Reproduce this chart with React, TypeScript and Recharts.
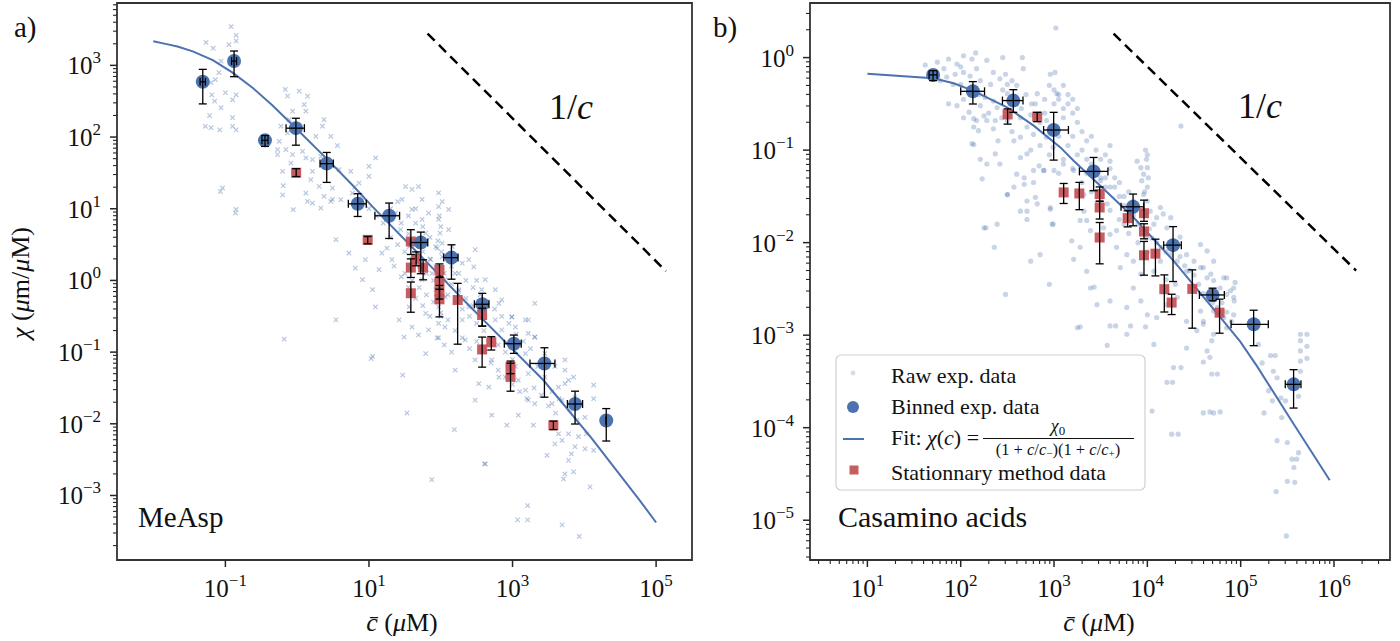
import React from "react";
import { ScatterChart, Scatter, XAxis, YAxis, ErrorBar, ReferenceArea } from "recharts";

const SERIF = '"Liberation Serif", "DejaVu Serif", serif';
const BLUE = "#4c72b0";
const RED = "#c44e52";
const INK = "#262626";

// axis ranges
const A_X_DOMAIN = [10 ** -2.51, 10 ** 5.5];
const A_Y_DOMAIN = [10 ** -3.9, 10 ** 3.87];
const B_X_DOMAIN = [10 ** 0.385, 10 ** 6.6];
const B_Y_DOMAIN = [10 ** -5.43, 10 ** 0.59];

const A_X_MAJOR = [1e-1, 1e1, 1e3, 1e5];

// ---- panel a: MeAsp ----
const A_BIN_X = [0.0484, 0.132, 0.356, 0.96, 2.58, 6.97, 19.1, 52.7, 141, 379, 1043, 2782, 7430, 20200];
const A_BIN_Y = [590, 1148, 90, 133, 42.6, 11.7, 7.98, 3.38, 2.08, 0.465, 0.131, 0.0695, 0.0189, 0.0111];
const A_BIN_XLO = [0.0444, 0.122, 0.323, 0.7, 2.08, 5.16, 12.1, 37.9, 110, 294, 768, 1750, 5810, 20200];
const A_BIN_XHI = [0.0527, 0.143, 0.392, 1.26, 3.19, 9.17, 26.7, 65.9, 174, 469, 1321, 3893, 9460, 20200];
const A_BIN_YLO = [290, 695, 74, 77, 23.3, 7.8, 3.85, 1.24, 1.04, 0.231, 0.096, 0.0235, 0.00993, 0.00575];
const A_BIN_YHI = [880, 1585, 105, 183, 61, 16.2, 12.0, 4.72, 3.14, 0.66, 0.173, 0.115, 0.0285, 0.0163];

const A_ST_X = [0.968, 9.6, 38.3, 45.4, 38.3, 56.8, 38.3, 96, 96, 96, 96, 172, 377, 377, 506, 937, 937, 3707];
const A_ST_Y = [31.8, 3.68, 3.49, 2.0, 1.51, 1.51, 0.662, 1.4, 0.96, 0.7, 0.545, 0.533, 0.329, 0.109, 0.137, 0.0622, 0.0451, 0.00953];
const A_ST_YLO = [28.1, 3.24, 2.3, 1.6, 1.1, 1.02, 0.36, 1.1, 0.75, 0.55, 0.31, 0.129, 0.23, 0.0617, 0.107, 0.05, 0.0285, 0.0083];
const A_ST_YHI = [36.2, 4.1, 5.1, 2.5, 2.0, 1.94, 0.95, 1.7, 1.15, 0.85, 0.75, 0.91, 0.41, 0.162, 0.164, 0.075, 0.07, 0.0109];

const A_FIT_X = [0.0099, 0.0141, 0.0215, 0.0351, 0.0667, 0.126, 0.239, 0.454, 0.96, 2.51, 5.87, 11.1, 113, 208, 2698, 12600, 59400, 100000];
const A_FIT_Y = [2170, 2010, 1830, 1570, 1186, 791, 488, 276, 133, 51.2, 21.4, 10.8, 1.0, 0.533, 0.0405, 0.0063, 0.00085, 0.00042];

const A_SLOPE_X = [65.5, 137000];
const A_SLOPE_Y = [2767, 1.35];

// raw measurements, as [log10 c, log10 chi]
const A_RAW = [
  [-0.92, 3.54], [-0.85, 3.42], [-0.85, 3.34], [-0.95, 3.29], [-1.27, 3.32], [-1.17, 3.24], [-1.06, 3.06], [-1.09, 2.9],
  [-1.14, 2.8], [-1.2, 2.76], [-1.19, 2.59], [-1.15, 2.5], [-1.22, 2.3], [-1.06, 2.41], [-1.28, 2.15], [-1.2, 2.13],
  [-1.08, 2.1], [-0.9, 2.15], [-0.85, 2.1], [-0.9, 2.27], [-0.9, 2.52], [-0.85, 2.59], [-1.0, 2.62], [-1.04, 1.29],
  [-0.85, 0.99], [-0.86, 0.94], [-1.07, 1.24],
  [-0.166, 2.664], [-0.134, 2.571], [0.028, 2.641], [0.144, 2.571], [0.098, 2.454], [0.121, 2.361], [-0.064, 2.361],
  [-0.111, 2.244], [-0.226, 2.151], [-0.134, 2.058], [-0.25, 1.941], [-0.273, 1.825], [-0.157, 1.825], [-0.273, 1.755],
  [-0.064, 1.755], [0.075, 1.801], [0.121, 1.708], [-0.203, 1.522], [-0.088, 1.638], [-0.194, 1.321], [-0.203, 1.195],
  [-0.055, 0.986], [0.121, 1.219], [0.19, 1.405], [0.213, 1.522], [0.375, 2.244], [0.352, 2.151], [0.26, 2.011],
  [0.468, 2.011], [0.561, 1.881], [0.213, 1.685], [0.329, 1.732], [0.584, 1.545], [0.746, 1.522], [1.0, 1.452],
  [1.093, 1.708], [1.0, 1.592], [0.306, 1.312], [0.375, 1.172], [0.468, 1.102], [0.213, 1.079], [0.329, 1.009],
  [0.144, 1.102], [0.491, 1.289], [0.607, 1.126], [0.769, 1.219], [0.862, 1.359],
  [0.49, 1.13], [0.54, 0.57], [0.72, 0.38], [0.81, 0.17], [0.91, 0.01], [0.95, 0.29], [1.05, -0.13], [1.14, 0.15],
  [1.18, 0.38], [1.32, 0.29], [1.09, -0.37], [1.05, -1.06], [0.54, -0.55], [1.42, -0.55], [1.49, -0.79], [1.69, -0.76],
  [1.56, -0.37], [1.6, -0.65], [1.79, -0.46], [1.79, -1.02], [1.83, -0.69], [1.46, 1.13], [1.51, 1.31], [1.6, 1.27],
  [1.37, 0.94], [1.44, 0.71], [1.83, 0.94], [1.97, 1.22], [1.97, 1.03], [1.97, 0.85], [1.99, 0.66], [1.93, 0.47],
  [2.02, 0.33], [1.88, 0.1], [1.93, -0.13], [1.97, -0.37], [1.97, -0.6], [2.06, -0.65], [1.86, 0.29], [1.79, 0.66],
  [1.74, 0.85], [1.65, 0.8], [2.11, 0.71], [2.2, 0.1], [2.3, 0.24], [2.39, 0.29], [2.48, 0.43], [2.46, 0.19],
  [2.62, 0.01], [2.57, -0.13], [2.76, -0.13], [2.85, -0.27], [2.76, -0.55], [2.39, -0.37], [2.3, -0.55], [2.34, -0.83],
  [2.48, -1.11], [2.2, -1.25], [2.85, -0.69], [2.99, -0.51], [3.04, -0.65], [3.22, -0.55], [3.31, -0.79], [3.18, -1.02],
  [3.04, -1.2], [3.22, -1.3], [3.45, -1.02], [3.59, -1.2], [1.69, 1.31], [1.74, 1.13], [2.11, 0.99], [1.6, 0.99],
  [1.56, 0.47], [1.65, 0.24], [1.74, 0.01], [2.06, 0.01], [2.06, -0.23], [2.16, 0.47], [2.25, -0.13], [1.93, 0.19],
  [2.02, 0.52],
  [2.81, -0.32], [2.99, -0.51], [3.18, -0.55], [3.31, -0.32], [3.31, -0.79], [3.22, -0.74], [2.71, -1.11], [2.81, -1.35],
  [2.53, -1.44], [2.48, -1.67], [2.67, -1.49], [3.08, -1.39], [3.18, -1.53], [3.22, -1.67], [3.31, -1.72], [3.08, -1.88],
  [2.92, -2.02], [3.29, -2.02], [2.71, -1.88], [2.62, -2.56], [3.48, -2.44], [3.59, -2.28], [3.64, -2.14], [3.73, -1.44],
  [3.73, -1.25], [3.73, -1.11], [3.78, -1.39], [3.85, -1.35], [3.64, -1.49], [3.69, -1.67], [3.55, -1.72], [3.87, -1.63],
  [4.01, -1.91], [4.13, -1.46], [4.13, -1.65], [4.13, -2.37], [4.03, -2.14], [3.82, -2.42], [3.78, -2.51], [3.85, -2.67],
  [3.73, -2.7], [3.71, -2.77], [4.08, -2.88], [3.92, -2.18], [3.87, -2.32], [3.78, -2.14], [3.69, -2.23], [4.01, -2.35],
  [3.07, -3.34], [3.21, -3.14], [3.21, -3.34], [3.69, -3.41], [3.93, -3.57], [1.875, -2.78], [2.61, -2.56], [1.53, -1.85],
  [2.19, -2.08], [-0.18, -0.82], [1.03, -1.09], [1.47, -1.32],
  [1.3, 0.6], [1.4, 0.5], [1.5, 0.4], [1.6, 0.3], [1.7, 0.2], [1.8, 0.1], [1.9, 0.0], [2.0, -0.1], [2.1, -0.2],
  [2.2, -0.3], [2.3, -0.4], [2.4, -0.5], [2.5, -0.6], [2.6, -0.7], [2.7, -0.8], [2.8, -0.9], [2.9, -1.0], [3.0, -1.1],
  [1.45, 0.8], [1.55, 0.65], [1.65, 0.55], [1.75, 0.4], [1.85, 0.3], [1.95, 0.2], [2.05, 0.1], [2.15, -0.05],
  [2.25, -0.15], [2.35, -0.25], [2.45, -0.35], [1.5, 0.1], [1.6, 0.0], [1.7, -0.1], [1.8, -0.2], [1.9, -0.3],
  [2.0, -0.45], [2.1, -0.55], [2.2, -0.7], [1.2, 0.8], [1.1, 0.9], [1.0, 1.0], [0.9, 1.15], [0.8, 1.3],
  [1.25, 0.45], [1.35, 0.2], [1.45, 0.05], [1.55, -0.1], [1.65, -0.25], [1.75, -0.35], [1.85, -0.5], [1.95, -0.8],
  [2.05, -0.9], [2.15, -1.0], [1.3, 1.0], [1.4, 1.1], [1.55, 0.9], [1.65, 1.0], [1.75, 0.75], [1.85, 0.6],
  [1.95, 0.45], [2.05, 0.35], [2.15, 0.2], [2.25, 0.1], [2.35, 0.0], [2.45, -0.1], [2.55, -0.2], [2.65, -0.3],
  [2.75, -0.4], [2.85, -0.5], [2.95, -0.6], [3.05, -0.75], [3.15, -0.85], [3.25, -0.95], [2.3, -0.8], [2.4, -0.95],
  [2.5, -0.85], [2.6, -1.0], [2.7, -1.15], [2.8, -1.25], [2.9, -1.35], [3.0, -1.45], [3.1, -1.55], [3.2, -1.65],
  [3.3, -1.5], [3.4, -1.6], [3.5, -1.75], [3.6, -1.85], [3.35, -1.2], [3.45, -1.35], [3.55, -1.55], [3.65, -1.65],
  [3.8, -1.8], [3.9, -1.95], [1.98, 0.9], [2.0, 0.75], [1.96, 0.55], [2.01, 0.4], [1.98, -0.2], [2.0, -0.5],
  [1.97, -0.8], [2.02, 1.1], [2.5, 0.0], [2.55, -0.45],
];

// ---- panel b: Casamino acids ----
const B_BIN_X = [50.6, 135, 366, 991, 2654, 7030, 18840, 50000, 137700, 369000];
const B_BIN_Y = [0.65, 0.432, 0.343, 0.165, 0.0589, 0.0244, 0.0094, 0.00272, 0.00131, 0.000294];
const B_BIN_XLO = [45.8, 100, 280, 773, 1870, 5220, 14960, 36100, 78900, 300600];
const B_BIN_XHI = [55.8, 180, 465, 1426, 3780, 9120, 23100, 66800, 197700, 442600];
const B_BIN_YLO = [0.564, 0.315, 0.256, 0.078, 0.0364, 0.0152, 0.0038, 0.00235, 0.00077, 0.000163];
const B_BIN_YHI = [0.723, 0.55, 0.45, 0.256, 0.0833, 0.0335, 0.0149, 0.00322, 0.00186, 0.000424];

const B_ST_X = [318, 660, 1268, 1866, 3083, 3083, 3083, 6150, 9200, 9200, 9200, 12200, 15200, 18200, 30300, 59400];
const B_ST_Y = [0.243, 0.23, 0.0349, 0.034, 0.0335, 0.024, 0.01136, 0.0184, 0.0208, 0.0132, 0.0073, 0.0076, 0.00314, 0.00225, 0.00316, 0.00175];
const B_ST_YLO = [0.191, 0.203, 0.0265, 0.0227, 0.028, 0.018, 0.0059, 0.0148, 0.017, 0.011, 0.00445, 0.00437, 0.00178, 0.00167, 0.00119, 0.00105];
const B_ST_YHI = [0.279, 0.256, 0.0436, 0.0448, 0.04, 0.028, 0.0165, 0.0221, 0.0288, 0.016, 0.0103, 0.0109, 0.00448, 0.00277, 0.00508, 0.00245];

const B_FIT_X = [10, 50.6, 84, 135, 314, 605, 1170, 1622, 3133, 7130, 19100, 51000, 99000, 150000, 340000, 900000];
const B_FIT_Y = [0.667, 0.597, 0.527, 0.44, 0.29, 0.184, 0.107, 0.0768, 0.0412, 0.0187, 0.00635, 0.00192, 0.00085, 0.00046, 0.000125, 0.000027];

const B_SLOPE_X = [4345, 1726000];
const B_SLOPE_Y = [1.815, 0.00499];

const B_RAW = [
  [1.87, -0.015], [1.96, -0.07], [2.03, -0.16], [2.12, -0.015], [2.16, 0.05], [2.28, -0.03], [2.45, 0.0], [2.66, 0.0],
  [2.67, -0.12], [2.35, -0.16], [2.42, -0.23], [2.5, -0.29], [1.92, -0.29], [1.87, -0.5], [1.96, -0.52], [2.03, -0.65],
  [2.09, -0.59], [2.14, -0.75], [2.19, -0.79], [2.28, -0.68], [2.35, -0.77], [2.25, -0.63], [2.21, -0.52], [2.12, -0.93],
  [2.21, -1.1], [2.28, -1.15], [2.37, -1.04], [2.42, -1.15], [2.23, -1.31], [2.5, -1.48], [2.57, -1.4], [2.68, -1.3],
  [2.64, -1.08], [2.71, -1.04], [2.78, -1.22], [2.84, -1.17], [2.89, -1.22], [2.71, -1.55], [2.8, -1.51], [2.96, -1.64],
  [2.64, -1.66], [2.71, -1.75], [2.39, -1.8], [2.25, -1.84], [2.99, -1.8], [2.64, -0.86], [2.78, -0.83], [2.92, -0.86],
  [2.99, -0.97], [2.57, -0.9], [2.85, -0.61], [2.96, -0.18], [3.03, -0.39], [2.92, -0.68], [2.5, -0.39], [2.6, -0.5],
  [2.64, -0.65], [2.71, -0.75], [2.76, -0.5], [2.82, -0.39], [2.03, 0.02], [2.17, -0.12], [1.85, -0.21], [1.94, -0.18],
  [2.0, -0.29], [2.21, -0.25], [2.32, -0.29], [2.26, -0.43], [2.39, -0.54], [2.44, -0.65], [2.37, -0.68], [2.14, -0.66],
  [2.03, -0.45], [2.17, -0.68], [2.17, -0.36], [2.5, -0.68], [2.35, -0.47], [2.48, -0.18], [2.55, -0.25],
  [2.5, -1.48], [2.6, -1.26], [2.68, -1.37], [2.78, -1.35], [2.82, -1.58], [2.71, -1.66], [2.75, -2.2], [2.85, -2.13],
  [2.98, -1.8], [2.96, -1.62], [2.89, -1.22], [3.0, -1.22], [3.1, -1.15], [3.28, -1.76], [3.19, -1.98], [3.21, -2.18],
  [3.28, -2.05], [3.35, -2.31], [3.39, -2.49], [3.25, -2.92], [3.6, -2.9], [3.32, -1.66], [3.35, -1.76], [3.39, -1.87],
  [3.53, -1.84], [3.6, -1.91], [3.67, -1.87], [3.57, -1.58], [3.6, -1.4], [3.5, -1.33], [3.6, -1.12], [3.89, -1.12],
  [3.93, -1.19], [3.96, -1.26], [4.0, -1.4], [3.94, -1.33], [4.0, -1.19], [3.96, -1.48], [4.03, -1.66], [4.1, -1.73],
  [4.17, -1.69], [4.21, -1.84], [4.07, -1.8], [4.14, -1.62], [4.25, -1.73], [4.35, -1.94], [4.42, -2.13], [4.5, -2.2],
  [4.57, -2.27], [4.64, -2.38], [4.71, -2.41], [4.78, -2.49], [4.85, -2.56], [4.925, -2.59], [4.42, -2.31], [4.32, -2.2],
  [4.25, -2.13], [4.14, -2.2], [4.07, -2.31], [3.93, -2.34], [3.85, -2.49], [3.93, -2.63], [4.0, -2.78], [4.1, -2.81],
  [4.21, -2.67], [4.32, -2.59], [4.42, -2.85], [4.57, -2.74], [4.6, -2.88], [4.71, -2.99], [4.82, -2.81], [4.925, -2.78],
  [3.78, -2.13], [3.71, -2.27], [3.85, -2.2], [3.67, -2.05], [3.32, -1.48], [3.21, -1.22], [4.57, -2.02], [4.64, -2.09],
  [4.71, -2.2], [4.85, -2.38], [4.925, -2.49], [3.78, -2.7], [3.6, -2.63], [3.46, -2.67], [3.78, -2.99], [4.07, -3.1],
  [4.42, -3.14], [4.64, -3.17],
  [4.6, -2.27], [4.68, -2.34], [4.82, -2.38], [4.89, -2.52], [4.93, -2.63], [4.94, -2.43], [4.71, -2.74], [4.6, -2.85],
  [4.69, -3.06], [4.85, -2.92], [4.53, -2.95], [4.28, -3.35], [4.21, -3.51], [4.69, -3.42], [4.6, -3.84], [4.71, -3.84],
  [4.26, -4.07], [5.64, -2.99], [5.64, -3.06], [5.64, -3.17], [5.64, -3.28], [5.64, -3.39], [5.32, -3.22], [5.37, -3.22],
  [5.35, -3.39], [5.39, -3.46], [5.3, -3.6], [5.34, -3.71], [5.43, -3.68], [5.48, -3.71], [5.62, -3.66], [5.25, -3.84],
  [5.44, -3.89], [5.39, -4.14], [5.5, -4.16], [5.62, -4.27], [5.55, -4.34], [5.6, -4.34], [5.57, -4.43], [5.5, -4.58],
  [5.19, -3.1], [5.23, -3.3],
  [5.71, -2.99], [5.71, -3.12], [5.71, -3.25], [5.38, -4.69], [5.49, -5.17], [5.58, -4.59], [4.67, -3.83], [4.78, -3.83],
  [4.33, -4.07], [4.27, -3.51], [4.36, -3.35], [3.57, -3.11], [4.6, -3.29], [4.67, -3.24], [4.75, -3.42], [4.05, -3.82],
  [3.28, -2.91], [3.66, -2.9], [3.82, -2.9], [3.98, -2.91],
  [3.02, 0.32], [3.01, -0.16], [4.36, -0.74], [2.14, -0.94], [2.27, -1.84], [2.36, -2.05], [2.48, -2.56], [2.95, -2.45],
  [3.43, -2.48],
  [3.98, -1.0], [4.0, -1.05], [3.99, -1.1], [4.01, -1.3], [3.97, -1.45], [4.0, -1.55], [3.98, -1.7], [4.02, -1.85],
  [3.99, -1.95], [3.3, -0.8], [3.35, -0.9], [3.4, -0.85], [3.45, -1.0], [3.5, -1.1], [3.55, -1.05], [3.6, -1.2],
  [3.65, -1.3], [3.7, -1.35], [3.4, -1.15], [3.5, -1.3], [3.3, -1.0], [3.6, -0.95], [3.55, -1.4], [3.45, -1.2],
  [3.35, -1.25], [3.25, -0.7], [3.2, -0.6], [3.15, -0.5], [3.1, -0.55], [3.05, -0.45], [3.2, -0.85], [3.7, -1.5],
  [3.75, -1.6], [3.8, -1.45], [3.85, -1.7], [3.9, -1.8], [3.75, -1.8], [2.95, -0.3], [3.0, -0.35], [3.05, -0.4],
  [3.1, -0.3], [3.15, -0.4], [3.2, -0.45], [3.0, -0.5], [3.1, -0.65], [3.25, -0.55], [2.9, -0.45],
  [1.62, -0.08], [1.7, -0.15], [1.75, -0.05], [1.78, -0.25], [1.68, -0.22], [1.82, -0.12],
  [2.45, -0.35], [2.55, -0.45], [2.65, -0.55], [2.75, -0.62], [2.85, -0.7], [2.95, -0.78], [2.6, -0.3], [2.7, -0.4],
  [2.8, -0.5], [2.9, -0.6], [3.05, -0.85], [3.15, -0.95], [3.25, -1.05], [3.35, -1.1], [3.45, -1.2], [3.55, -1.3],
  [3.65, -1.4], [3.75, -1.5], [3.85, -1.55], [3.95, -1.65], [3.1, -1.1], [3.2, -1.2], [3.3, -1.35], [3.4, -1.45],
  [3.5, -1.55], [3.6, -1.65], [3.7, -1.75], [3.8, -1.9], [3.9, -2.0], [4.0, -2.1], [4.05, -1.95], [4.1, -2.0],
  [4.15, -2.05], [4.2, -2.1], [4.25, -2.0], [4.3, -2.05], [4.35, -2.15], [4.4, -2.25], [4.45, -2.3], [4.5, -2.35],
  [4.55, -2.45], [4.6, -2.55], [4.65, -2.6], [4.7, -2.65], [4.75, -2.7], [4.8, -2.65], [4.85, -2.75], [4.9, -2.85],
  [4.2, -2.4], [4.3, -2.45], [2.85, -0.95], [2.95, -1.05], [2.75, -1.0], [3.05, -1.25], [2.55, -0.8], [2.4, -0.9],
  [2.3, -0.6], [2.2, -0.4], [2.1, -0.2], [2.0, -0.1],
];

// ---- helpers ----
const fromLog = (pts: number[][]) => pts.map(([lx, ly]) => ({ x: 10 ** lx, y: 10 ** ly }));
const pairs = (xs: number[], ys: number[]) => xs.map((x, i) => ({ x, y: ys[i] }));
const binned = (xs: number[], ys: number[], xlo: number[], xhi: number[], ylo: number[], yhi: number[]) =>
  xs.map((x, i) => ({ x, y: ys[i], ex: [x - xlo[i], xhi[i] - x], ey: [ys[i] - ylo[i], yhi[i] - ys[i]] }));
const stationary = (xs: number[], ys: number[], ylo: number[], yhi: number[]) =>
  xs.map((x, i) => ({ x, y: ys[i], ey: [ys[i] - ylo[i], yhi[i] - ys[i]] }));

function withMinors(dom: number[]) {
  const out: number[] = [];
  const e0 = Math.floor(Math.log10(dom[0]));
  const e1 = Math.ceil(Math.log10(dom[1]));
  for (let e = e0; e <= e1; e++) {
    for (let m = 1; m <= 9; m++) {
      const v = m * 10 ** e;
      if (v >= dom[0] && v <= dom[1]) out.push(v);
    }
  }
  return out;
}

const isMajor = (v: number) => Math.abs(Math.log10(v) - Math.round(Math.log10(v))) < 1e-6;
const expText = (v: number) => {
  const e = Math.round(Math.log10(v));
  return e < 0 ? "\u2212" + -e : String(e);
};

function YTick(props: any) {
  const { x, y, payload } = props;
  const major = isMajor(payload.value);
  const len = major ? 7 : 4;
  return (
    <g>
      <line x1={x - len} x2={x} y1={y} y2={y} stroke={INK} strokeWidth={major ? 1.5 : 1.1} />
      {major && (
        <text x={x - len - 9} y={y + 9} textAnchor="end" fontFamily={SERIF} fontSize={25} fill="#111">
          10<tspan dy={-11} fontSize={17}>{expText(payload.value)}</tspan>
        </text>
      )}
    </g>
  );
}

function XTick(props: any) {
  const { x, y, payload } = props;
  const major = isMajor(payload.value);
  const len = major ? 7 : 4;
  return (
    <g>
      <line x1={x} x2={x} y1={y} y2={y + len} stroke={INK} strokeWidth={major ? 1.5 : 1.1} />
      {major && (
        <text x={x} y={y + 37} textAnchor="middle" fontFamily={SERIF} fontSize={25} fill="#111">
          10<tspan dy={-11} fontSize={17}>{expText(payload.value)}</tspan>
        </text>
      )}
    </g>
  );
}

const Nothing = () => <g />;
const RawCross = (p: any) => (
  <path
    d={`M${p.cx - 2.2},${p.cy - 2.2}L${p.cx + 2.2},${p.cy + 2.2}M${p.cx - 2.2},${p.cy + 2.2}L${p.cx + 2.2},${p.cy - 2.2}`}
    stroke={BLUE}
    strokeOpacity={0.4}
    strokeWidth={1.2}
  />
);
const RawDot = (p: any) => <circle cx={p.cx} cy={p.cy} r={2.6} fill={BLUE} fillOpacity={0.3} />;
const BinDot = (p: any) => <circle cx={p.cx} cy={p.cy} r={7} fill={BLUE} />;
const StSquare = (p: any) => <rect x={p.cx - 5} y={p.cy - 5} width={10} height={10} fill={RED} fillOpacity={0.92} />;

function Panel(props: any) {
  const { xDom, yDom, xTicks, yTicks, yAxisWidth, raw, rawShape, fit, slope, st, bins } = props;
  return (
    <ScatterChart width={props.width} height={641} margin={{ top: 3, right: 10, bottom: 0, left: 0 }}>
      <XAxis
        type="number"
        dataKey="x"
        scale="log"
        domain={xDom}
        allowDataOverflow
        ticks={xTicks}
        interval={0}
        tick={<XTick />}
        tickLine={false}
        axisLine={false}
        tickSize={0}
        tickMargin={0}
        height={81}
      />
      <YAxis
        type="number"
        dataKey="y"
        scale="log"
        domain={yDom}
        allowDataOverflow
        ticks={yTicks}
        interval={0}
        tick={<YTick />}
        tickLine={false}
        axisLine={false}
        tickSize={0}
        tickMargin={0}
        width={yAxisWidth}
      />
      <Scatter data={raw} shape={rawShape} isAnimationActive={false} />
      <Scatter data={fit} shape={<Nothing />} line={{ stroke: BLUE, strokeWidth: 2 }} isAnimationActive={false} />
      <Scatter
        data={slope}
        shape={<Nothing />}
        line={{ stroke: "#000", strokeWidth: 2.5, strokeDasharray: "10 6" }}
        isAnimationActive={false}
      />
      <Scatter data={st} shape={<StSquare />} isAnimationActive={false} />
      <Scatter data={st} shape={<Nothing />} isAnimationActive={false} zIndex={900}>
        <ErrorBar dataKey="ey" direction="y" width={4} stroke="#000" strokeWidth={1.3} zIndex={900} />
      </Scatter>
      <Scatter data={bins} shape={<BinDot />} isAnimationActive={false} />
      <Scatter data={bins} shape={<Nothing />} isAnimationActive={false} zIndex={900}>
        <ErrorBar dataKey="ey" direction="y" width={4} stroke="#000" strokeWidth={1.3} zIndex={900} />
        <ErrorBar dataKey="ex" direction="x" width={4} stroke="#000" strokeWidth={1.3} zIndex={900} />
      </Scatter>
      <ReferenceArea
        x1={xDom[0]}
        x2={xDom[1]}
        y1={yDom[0]}
        y2={yDom[1]}
        fill="none"
        stroke="#333"
        strokeWidth={1.8}
        ifOverflow="visible"
      />
    </ScatterChart>
  );
}

const it = { fontStyle: "italic" } as const;

function Overlay() {
  return (
    <svg
      width={1400}
      height={641}
      style={{ position: "absolute", left: 0, top: 0, pointerEvents: "none" }}
      fontFamily={SERIF}
      fill="#111"
    >
      <text x={14} y={37} fontSize={29}>a)</text>
      <text x={713} y={37} fontSize={29}>b)</text>
      <text x={549} y={119} fontSize={36}>1/<tspan {...it}>c</tspan></text>
      <text x={1238} y={118} fontSize={36}>1/<tspan {...it}>c</tspan></text>
      <text x={138} y={527} fontSize={29}>MeAsp</text>
      <text x={838} y={527} fontSize={30}>Casamino acids</text>
      <text x={402} y={631} fontSize={26} textAnchor="middle">
        <tspan {...it}>c{"\u0304"}</tspan> (<tspan {...it}>μ</tspan>M)
      </text>
      <text x={1099} y={631} fontSize={26} textAnchor="middle">
        <tspan {...it}>c{"\u0304"}</tspan> (<tspan {...it}>μ</tspan>M)
      </text>
      <text transform="translate(29,283) rotate(-90)" fontSize={26} textAnchor="middle">
        <tspan {...it}>χ</tspan> (<tspan {...it}>μ</tspan>m/<tspan {...it}>μ</tspan>M)
      </text>

      {/* legend */}
      <rect x={836} y={355} width={309} height={135} rx={5} fill="#fff" fillOpacity={0.8} stroke="#d0d0d0" strokeWidth={1.2} />
      <circle cx={853} cy={373} r={2.4} fill={BLUE} fillOpacity={0.25} />
      <circle cx={853} cy={407} r={6} fill={BLUE} />
      <line x1={843} x2={864} y1={439} y2={439} stroke={BLUE} strokeWidth={2} />
      <rect x={849.5} y={465.5} width={9} height={9} fill={RED} fillOpacity={0.92} />
      <text x={891} y={383} fontSize={22}>Raw exp. data</text>
      <text x={891} y={414} fontSize={22}>Binned exp. data</text>
      <text x={891} y={445} fontSize={22}>
        Fit: <tspan {...it}>χ</tspan>(<tspan {...it}>c</tspan>) =
      </text>
      <text x={1058} y={432} fontSize={18} textAnchor="middle">
        <tspan {...it}>χ</tspan><tspan fontSize={13} dy={3}>0</tspan>
      </text>
      <line x1={983} x2={1134} y1={438.5} y2={438.5} stroke="#111" strokeWidth={1} />
      <text x={1058} y={455} fontSize={16.5} textAnchor="middle">
        (1 + <tspan {...it}>c</tspan>/<tspan {...it}>c</tspan><tspan fontSize={11} dy={2}>−</tspan><tspan dy={-2}>)(1 + </tspan><tspan {...it}>c</tspan>/<tspan {...it}>c</tspan><tspan fontSize={11} dy={2}>+</tspan><tspan dy={-2}>)</tspan>
      </text>
      <text x={891} y={480} fontSize={22}>Stationnary method data</text>
    </svg>
  );
}

export default function App() {
  const aY = withMinors(A_Y_DOMAIN);
  const bX = withMinors(B_X_DOMAIN);
  const bY = withMinors(B_Y_DOMAIN);
  return (
    <div style={{ position: "absolute", left: 0, top: 0, width: 1400, height: 641, background: "#fff", overflow: "hidden" }}>
      <div style={{ position: "absolute", left: 0, top: 0 }}>
        <Panel
          width={702}
          xDom={A_X_DOMAIN}
          yDom={A_Y_DOMAIN}
          xTicks={A_X_MAJOR}
          yTicks={aY}
          yAxisWidth={117}
          raw={fromLog(A_RAW)}
          rawShape={<RawCross />}
          fit={pairs(A_FIT_X, A_FIT_Y)}
          slope={pairs(A_SLOPE_X, A_SLOPE_Y)}
          st={stationary(A_ST_X, A_ST_Y, A_ST_YLO, A_ST_YHI)}
          bins={binned(A_BIN_X, A_BIN_Y, A_BIN_XLO, A_BIN_XHI, A_BIN_YLO, A_BIN_YHI)}
        />
      </div>
      <div style={{ position: "absolute", left: 700, top: 0 }}>
        <Panel
          width={700}
          xDom={B_X_DOMAIN}
          yDom={B_Y_DOMAIN}
          xTicks={bX}
          yTicks={bY}
          yAxisWidth={110}
          raw={fromLog(B_RAW)}
          rawShape={<RawDot />}
          fit={pairs(B_FIT_X, B_FIT_Y)}
          slope={pairs(B_SLOPE_X, B_SLOPE_Y)}
          st={stationary(B_ST_X, B_ST_Y, B_ST_YLO, B_ST_YHI)}
          bins={binned(B_BIN_X, B_BIN_Y, B_BIN_XLO, B_BIN_XHI, B_BIN_YLO, B_BIN_YHI)}
        />
      </div>
      <Overlay />
    </div>
  );
}
